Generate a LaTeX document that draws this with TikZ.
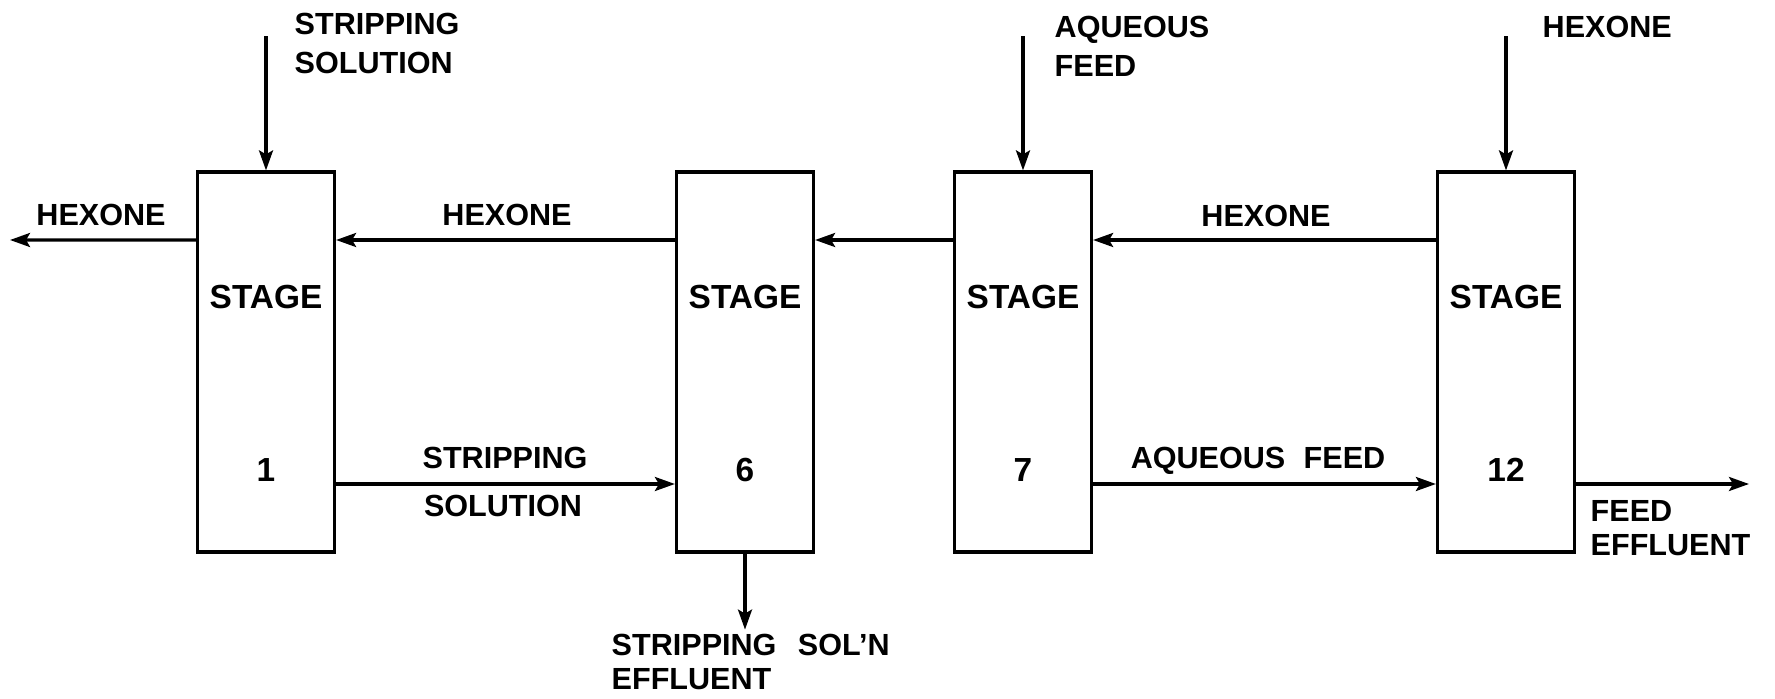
\documentclass[tikz,border=0pt]{standalone}
\usepackage{fontspec}
\setmainfont{Liberation Sans}
\usetikzlibrary{arrows.meta}
\tikzset{
  stagebox/.style={draw, line width=0.9pt, minimum width=1.37cm, minimum height=3.80cm, inner sep=0pt},
  flow/.style={line width=0.9pt, -{Stealth[length=2mm, width=1.4mm, inset=0.4mm]}},
  lbl/.style={font=\fontsize{8.7}{11.1}\selectfont\bfseries, inner sep=0pt},
  stagetxt/.style={font=\fontsize{9.5}{11}\selectfont\bfseries, inner sep=0pt}
}
\begin{document}
\begin{tikzpicture}
  \useasboundingbox (0,0) rectangle (17.75,-6.99);
  % stages
  \node[stagebox] (s1)  at (2.66, -3.62)  {};
  \node[stagebox] (s6)  at (7.45, -3.62)  {};
  \node[stagebox] (s7)  at (10.23, -3.62) {};
  \node[stagebox] (s12) at (15.06, -3.62) {};
  \node[stagetxt] (t1)  at ([yshift=0.65cm]s1.center)  {STAGE};
  \node[stagetxt] (t6)  at ([yshift=0.65cm]s6.center)  {STAGE};
  \node[stagetxt] (t7)  at ([yshift=0.65cm]s7.center)  {STAGE};
  \node[stagetxt] (t12) at ([yshift=0.65cm]s12.center) {STAGE};
  \node[stagetxt] (n1)  at ([yshift=-1.08cm]s1.center)  {1};
  \node[stagetxt] (n6)  at ([yshift=-1.08cm]s6.center)  {6};
  \node[stagetxt] (n7)  at ([yshift=-1.08cm]s7.center)  {7};
  \node[stagetxt] (n12) at ([yshift=-1.08cm]s12.center) {12};
  % free ends
  \coordinate (in1)  at ([yshift=1.34cm]s1.north);
  \coordinate (in7)  at ([yshift=1.34cm]s7.north);
  \coordinate (in12) at ([yshift=1.34cm]s12.north);
  \coordinate (hexout)  at (0.10, -2.40);
  \coordinate (feedout) at (17.49, -4.84);
  \coordinate (stripout) at ([yshift=-0.76cm]s6.south);
  % feeds from above
  \draw[flow] (in1) -- (s1.north);
  \draw[flow] (in7) -- (s7.north);
  \draw[flow] (in12) -- (s12.north);
  % hexone line
  \draw[flow] ([yshift=1.22cm]s1.west) -- (hexout);
  \draw[flow] ([yshift=1.22cm]s6.west) -- ([yshift=1.22cm]s1.east);
  \draw[flow] ([yshift=1.22cm]s7.west) -- ([yshift=1.22cm]s6.east);
  \draw[flow] ([yshift=1.22cm]s12.west) -- ([yshift=1.22cm]s7.east);
  % aqueous line
  \draw[flow] ([yshift=-1.22cm]s1.east) -- ([yshift=-1.22cm]s6.west);
  \draw[flow] ([yshift=-1.22cm]s7.east) -- ([yshift=-1.22cm]s12.west);
  \draw[flow] ([yshift=-1.22cm]s12.east) -- (feedout);
  \draw[flow] (s6.south) -- (stripout);
  % labels
  \node[lbl, anchor=west, align=left] (lstrip) at (2.94, -0.43) {STRIPPING\\SOLUTION};
  \node[lbl, anchor=west, align=left] (laq) at (10.54, -0.46) {AQUEOUS\\FEED};
  \node[lbl, anchor=west] (lhex) at (15.42, -0.27) {HEXONE};
  \node[lbl] (lhexout) at (1.01, -2.15) {HEXONE};
  \node[lbl] (lhex16) at (5.07, -2.15) {HEXONE};
  \node[lbl] (lhex712) at (12.66, -2.16) {HEXONE};
  \node[lbl] (lstripa) at (5.05, -4.58) {STRIPPING};
  \node[lbl] (lsolb) at (5.03, -5.06) {SOLUTION};
  \node[lbl] (laqfeed) at (12.58, -4.61) {AQUEOUS\hspace{0.6em}FEED};
  \node[lbl, anchor=west, align=left] (lfeedeff) at (15.90, -5.28) {FEED\\[-0.15em]EFFLUENT};
  \node[lbl, anchor=west, align=left] (lstripeff) at (6.11, -6.62) {STRIPPING\hspace{0.7em}SOL’N\\[-0.15em]EFFLUENT};
\end{tikzpicture}
\end{document}
